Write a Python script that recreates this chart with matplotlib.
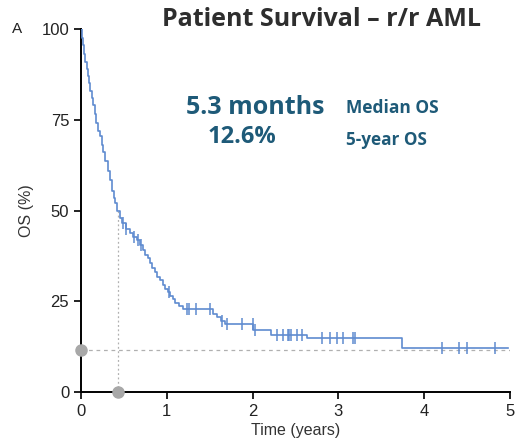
import matplotlib
matplotlib.use("Agg")
import matplotlib.pyplot as plt
import numpy as np

# Kaplan-Meier step data (time in years, OS % after the step)
step_times = [0, 0.01, 0.02, 0.035, 0.05, 0.065, 0.08, 0.095, 0.11, 0.125, 0.14, 0.16, 0.18,
              0.20, 0.22, 0.24, 0.26, 0.285, 0.31, 0.335, 0.36, 0.38, 0.40, 0.42, 0.45, 0.48,
              0.52, 0.57, 0.61, 0.65, 0.69, 0.72, 0.75, 0.78, 0.80, 0.83, 0.86, 0.89, 0.92,
              0.95, 0.98, 1.01, 1.04, 1.07, 1.10, 1.14, 1.19, 1.54, 1.58, 1.63, 1.68, 2.01,
              2.22, 2.63, 3.74]
step_surv = [100, 97.5, 95.5, 93, 91, 89, 87, 85, 83, 81, 79, 76.5, 74,
             72, 70.5, 68, 66, 63.5, 61, 58.5, 55.5, 53.5, 52, 50, 48, 46.5,
             45, 43.8, 42.8, 41.9, 40.5, 39, 37.8, 36.8, 35.5, 34.2, 33, 31.8, 30.8,
             29.6, 28.5, 27.5, 26.5, 25.5, 24.6, 23.8, 22.9, 21.6, 20.6, 19.6, 18.6, 17.0,
             15.7, 14.9, 12.1]
end_time = 4.98

censor_times = [0.49, 0.53, 0.62, 0.66, 0.70, 1.02, 1.24, 1.26, 1.34, 1.50, 1.64, 1.70,
                1.88, 2.00, 2.03, 2.28, 2.35, 2.41, 2.43, 2.45, 2.52, 2.58, 2.81, 2.90,
                2.98, 3.05, 3.17, 3.19, 4.21, 4.40, 4.50, 4.83]

median_os_years = 0.43
five_year_ref = 11.5

x_ticks = [0, 1, 2, 3, 4, 5]
y_ticks = [0, 25, 50, 75, 100]

curve_color = "#5f8bd0"
text_color = "#1e5a78"

fig = plt.figure(figsize=(5.23, 4.43), dpi=100)
ax = fig.add_axes([81/523, 1-392/443, (510-81)/523, (392-29)/443])

t = np.array(step_times + [end_time])
s = np.array(step_surv + [step_surv[-1]])
ax.step(t, s, where="post", color=curve_color, lw=1.2, zorder=3)

st = np.array(step_times)
ss = np.array(step_surv)
c_levels = [ss[np.searchsorted(st, c, side="right") - 1] for c in censor_times]
ax.plot(censor_times, c_levels, linestyle="none", marker="|", markersize=9,
        markeredgewidth=1.1, color=curve_color, zorder=4)

# reference lines
med_level = ss[np.searchsorted(st, median_os_years, side="right") - 1]
ax.plot([median_os_years, median_os_years], [0, med_level], linestyle=(0, (1.5, 2)),
        color="#b0b0b0", lw=0.9, zorder=2)
ax.plot([0, 5], [five_year_ref, five_year_ref], linestyle=(0, (3, 3)),
        color="#b0b0b0", lw=0.9, zorder=2)
ax.plot([0, median_os_years], [five_year_ref, 0], linestyle="none", marker="o",
        markersize=8, color="#a8a8a8", clip_on=False, zorder=5)

ax.set_xlim(0, 5)
ax.set_ylim(0, 100)
ax.set_xticks(x_ticks)
ax.set_yticks(y_ticks)
for sp in ["top", "right"]:
    ax.spines[sp].set_visible(False)
for sp in ["left", "bottom"]:
    ax.spines[sp].set_linewidth(1.4)
ax.tick_params(direction="out", length=5, width=1.4, labelsize=12, colors="#222222")
for lab in ax.get_xticklabels() + ax.get_yticklabels():
    lab.set_family("Liberation Sans")
ax.set_xlabel("Time (years)", family="Liberation Sans", fontsize=11.5, color="#333333", labelpad=3)
ax.set_ylabel("OS (%)", family="Liberation Sans", fontsize=11.5, color="#333333", labelpad=5)

fig.text(12/523, 1-29/443, "A", family="Liberation Sans", fontsize=11, va="center", ha="left", color="#222222")

fig.text(322/523, 1-20/443, "Patient Survival \u2013 r/r AML", family="Open Sans",
         fontweight="bold", fontsize=18, ha="center", va="center", color="#2e2e2e")
fig.text(255/523, 1-107/443, "5.3 months", family="Open Sans", fontweight="bold",
         fontsize=18, ha="center", va="center", color=text_color)
fig.text(242/523, 1-137/443, "12.6%", family="Open Sans", fontweight="bold",
         fontsize=17, ha="center", va="center", color=text_color)
fig.text(392/523, 1-108/443, "Median OS", family="Open Sans", fontweight="bold",
         fontsize=12.5, ha="center", va="center", color=text_color)
fig.text(386/523, 1-140/443, "5-year OS", family="Open Sans", fontweight="bold",
         fontsize=12.3, ha="center", va="center", color=text_color)

fig.savefig("out.png", dpi=100)
